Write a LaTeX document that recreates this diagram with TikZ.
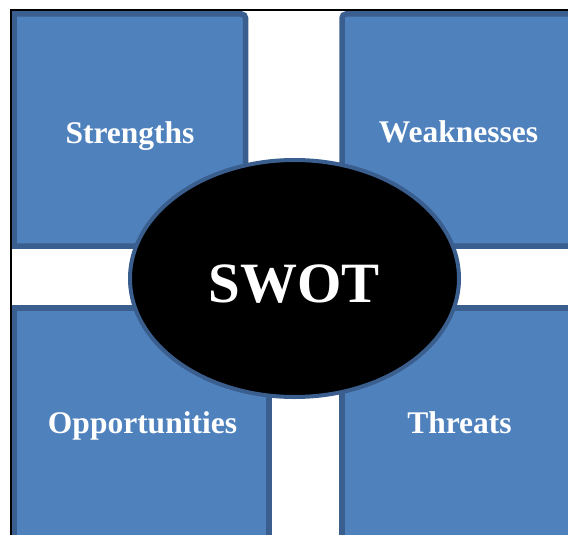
\documentclass[tikz,border=0pt]{standalone}
\usepackage{fontspec}
\setmainfont{Liberation Serif}
\usetikzlibrary{shapes.geometric}
\definecolor{quadfill}{HTML}{4F81BD}
\definecolor{quadedge}{HTML}{3A5F8E}
\begin{document}
\begin{tikzpicture}[x=1pt,y=-1pt,
  quad/.style={fill=quadfill,draw=quadedge,line width=5.5pt},
  core/.style={ellipse,fill=black,draw=quadedge,line width=4pt},
  quadlabel/.style={text=white,font=\fontsize{31.5}{36}\selectfont\bfseries,anchor=base,inner sep=0pt},
  corelabel/.style={text=white,font=\fontsize{57}{64}\selectfont\bfseries,anchor=base,inner sep=0pt}]
\useasboundingbox (0,0) rectangle (568,535);
\begin{scope}
  \clip (0,0) rectangle (568,535);
  % four quadrants; corners against the frame stay square, free ones are slightly rounded
  \path[quad] (14,246) -- (14,14) -- (241.5,14) arc[start angle=90,end angle=0,radius=4pt]
    -- (245.5,246) -- cycle;
  \path[quad] (578,14) -- (346,14) arc[start angle=90,end angle=180,radius=4pt]
    -- (342,246) -- (578,246) -- cycle;
  \path[quad] (14,545) -- (14,308) -- (269,308) -- (269,545) -- cycle;
  \path[quad] (578,308) -- (342,308) -- (342,545) -- (578,545) -- cycle;
  % central oval
  \node[core,minimum width=329pt,minimum height=237pt,inner sep=0pt] (swot) at (294.5,278.5) {};
\end{scope}
% frame on the left and top
\coordinate (fl) at (11,535);
\coordinate (fc) at (11,10);
\coordinate (fr) at (568,10);
\draw[line width=2pt] (fl) -- (fc) -- (fr);
% labels
\node[corelabel] (swottext) at (294,302) {SWOT};
\node[quadlabel] (s) at (130,143) {Strengths};
\node[quadlabel] (w) at (458.5,142.5) {Weaknesses};
\node[quadlabel] (o) at (142.5,433) {Opportunities};
\node[quadlabel] (t) at (459.5,433) {Threats};
\end{tikzpicture}
\end{document}
